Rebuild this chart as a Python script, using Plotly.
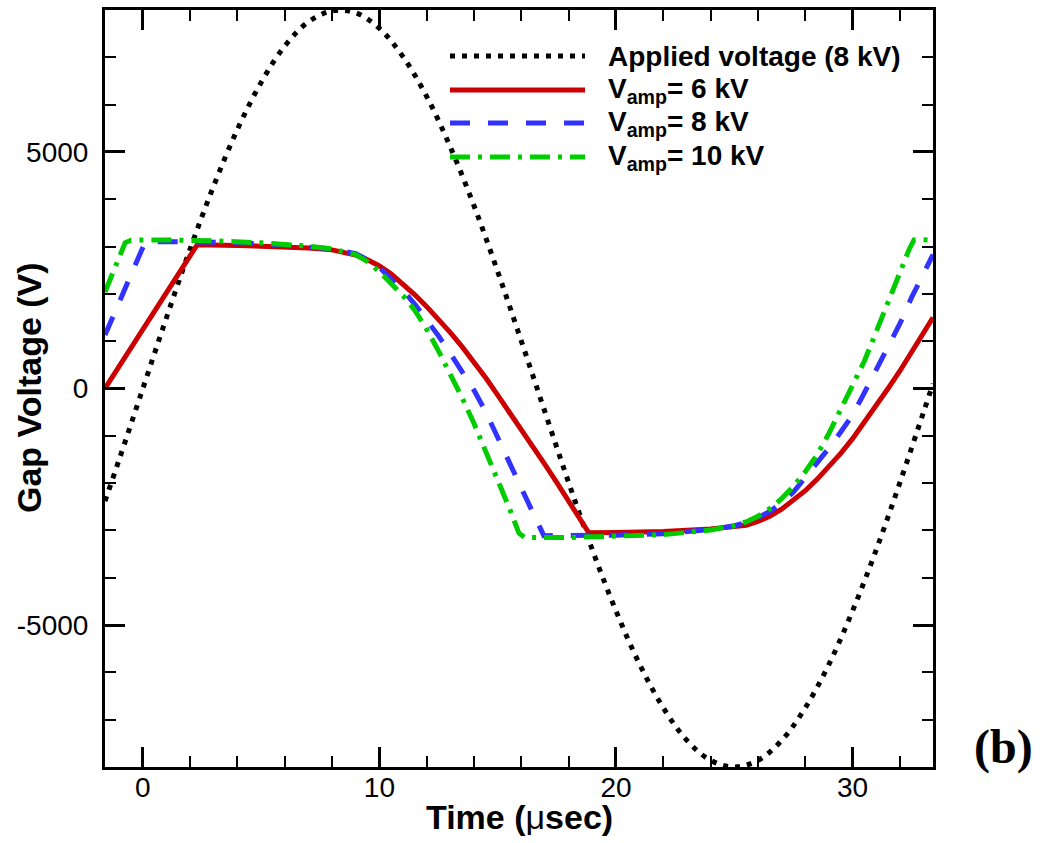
import plotly.graph_objects as go

# ---- data -------------------------------------------------------------
# applied sinusoidal voltage (8 kV amplitude)
t_applied = [-1.6, -1, 0, 1, 2, 3, 4, 5, 6, 7, 8, 9, 10, 11, 12, 13, 14, 15,
             16, 17, 18, 19, 20, 21, 22, 23, 24, 25, 26, 27, 28, 29, 30, 31,
             32, 33, 33.4]
v_applied = [-2380, -1500, 0, 1500, 2950, 4290, 5480, 6470, 7240, 7750, 7980,
             7940, 7610, 7010, 6170, 5100, 3860, 2470, 1000, -500, -1990,
             -3410, -4700, -5830, -6750, -7440, -7860, -8000, -7860, -7440,
             -6750, -5830, -4700, -3410, -1990, -500, 100]

# gap voltage, V_amp = 6 kV
t_6kv = [-1.6, 2.3, 4, 6, 7, 8, 8.5, 9, 9.5, 10, 10.5, 11, 11.5, 12, 12.5,
         13, 13.5, 14, 14.5, 15, 15.5, 16, 16.5, 17, 17.5, 18, 18.5, 18.85,
         20, 22, 24, 25, 25.5, 26, 26.5, 27, 27.5, 28, 28.5, 29, 29.5, 30,
         30.5, 31, 31.5, 32, 32.5, 33, 33.4]
v_6kv = [0, 3040, 3025, 2995, 2970, 2930, 2885, 2820, 2720, 2590, 2420, 2210,
         1980, 1730, 1460, 1180, 880, 560, 220, -140, -500, -865, -1235,
         -1610, -1990, -2375, -2765, -3050, -3045, -3025, -2970, -2930, -2890,
         -2810, -2700, -2550, -2370, -2160, -1920, -1650, -1370, -1060, -720,
         -360, 0, 370, 760, 1170, 1500]

# gap voltage, V_amp = 8 kV
t_8kv = [-1.6, 0.1, 2, 4, 6, 8, 9, 9.5, 10, 10.5, 11, 11.5, 12, 12.5, 13,
         13.5, 14, 14.5, 15, 15.5, 16, 16.5, 16.95, 18, 20, 22, 24, 25, 25.5,
         26, 26.5, 27, 27.5, 28, 28.5, 29, 29.5, 30, 30.5, 31, 31.5, 32, 32.5,
         33, 33.4]
v_8kv = [1130, 3100, 3100, 3080, 3030, 2950, 2850, 2720, 2560, 2330, 2070,
         1780, 1460, 1110, 740, 360, -40, -500, -1020, -1560, -2100, -2640,
         -3110, -3110, -3100, -3070, -2980, -2900, -2830, -2730, -2600, -2420,
         -2190, -1880, -1580, -1260, -920, -560, -90, 380, 870, 1370, 1930,
         2440, 2830]

# gap voltage, V_amp = 10 kV
t_10kv = [-1.6, -0.75, -0.5, 1, 3, 5, 7, 8, 9, 9.5, 10, 10.5, 11, 11.5, 12,
          12.5, 13, 13.5, 14, 14.5, 15, 15.5, 15.9, 16.15, 18, 20, 22, 24, 25,
          25.5, 26, 26.5, 27, 27.5, 28, 28.5, 29, 29.5, 30, 30.5, 31, 31.5,
          32, 32.4, 32.6, 32.8, 33.4]
v_10kv = [2040, 3080, 3135, 3140, 3120, 3080, 3010, 2950, 2830, 2680, 2470,
          2220, 1960, 1650, 1250, 790, 310, -200, -740, -1320, -1920, -2540,
          -3060, -3150, -3150, -3130, -3090, -2990, -2900, -2820, -2700, -2540,
          -2330, -2070, -1760, -1400, -950, -440, 60, 580, 1200, 1840, 2460,
          2950, 3140, 3150, 3130]

x_ticks = [0, 10, 20, 30]
y_ticks = [-5000, 0, 5000]
y_tick_text = ["-5000", "0", "5000"]

series = [
    ("Applied voltage (8 kV)", t_applied, v_applied, "black", 5, "5px,7px", "spline"),
    ("V<sub>amp</sub>= 6 kV", t_6kv, v_6kv, "#CC0000", 5, "solid", "linear"),
    ("V<sub>amp</sub>= 8 kV", t_8kv, v_8kv, "#3333FF", 5, "20px,18px", "linear"),
    ("V<sub>amp</sub>= 10 kV", t_10kv, v_10kv, "#00CC00", 5, "20px,8px,4px,8px", "linear"),
]

# ---- figure geometry (pixels) ----------------------------------------
W, H = 1043, 843
L, R, T, B = 105, 110, 10, 76
PW, PH = W - L - R, H - T - B


def px(x):
    return (x - L) / PW


def py(y):
    return (H - B - y) / PH


SANS = "Liberation Sans, Arial, Helvetica, sans-serif"

fig = go.Figure()
for name, t, v, color, width, dash, shape in series:
    fig.add_trace(go.Scatter(
        x=t, y=v, mode="lines", name=name, showlegend=False,
        line=dict(color=color, width=width, dash=dash, shape=shape),
    ))

# legend drawn as line samples plus labels
legend_rows = [56, 90, 123, 157]
shapes = []
annotations = []
for (name, _, _, color, width, dash, _), row in zip(series, legend_rows):
    shapes.append(dict(type="line", xref="paper", yref="paper",
                       x0=px(450), x1=px(585), y0=py(row), y1=py(row),
                       line=dict(color=color, width=width, dash=dash)))
    annotations.append(dict(xref="paper", yref="paper", x=px(606), y=py(row),
                            xanchor="left", yanchor="middle", showarrow=False,
                            text="<b>" + name + "</b>",
                            font=dict(family=SANS, size=28, color="black")))

annotations += [
    dict(xref="paper", yref="paper", x=px(519), y=py(817), xanchor="center",
         yanchor="middle", showarrow=False,
         text="<b>Time (</b>μ<b>sec)</b>",
         font=dict(family=SANS, size=34, color="black")),
    dict(xref="paper", yref="paper", x=px(29), y=py(388), xanchor="center",
         yanchor="middle", showarrow=False, textangle=-90,
         text="<b>Gap Voltage (V)</b>",
         font=dict(family=SANS, size=34, color="black")),
    dict(xref="paper", yref="paper", x=px(1003), y=py(747), xanchor="center",
         yanchor="middle", showarrow=False, text="<b>(b)</b>",
         font=dict(family="Liberation Serif, Times New Roman, serif", size=48,
                   color="black")),
]

axis_common = dict(
    showgrid=False, zeroline=False, showline=True, linecolor="black",
    linewidth=3, mirror="ticks", ticks="inside", ticklen=20, tickwidth=3,
    tickcolor="black", tickfont=dict(family=SANS, size=28, color="black"),
)

fig.update_layout(
    width=W, height=H,
    margin=dict(l=L, r=R, t=T, b=B, autoexpand=False),
    paper_bgcolor="white", plot_bgcolor="white",
    showlegend=False,
    xaxis=dict(range=[-1.6, 33.4], tickmode="array", tickvals=x_ticks,
               ticklabelstandoff=-7,
               minor=dict(tickmode="linear", tick0=0, dtick=2, ticks="inside",
                          ticklen=11, tickwidth=1.5, tickcolor="black"),
               **axis_common),
    yaxis=dict(range=[-8000, 8000], tickmode="array", tickvals=y_ticks,
               ticktext=y_tick_text, ticklabelstandoff=8,
               minor=dict(tickmode="linear", tick0=0, dtick=1000,
                          ticks="inside", ticklen=11, tickwidth=1.5,
                          tickcolor="black"),
               **axis_common),
    shapes=shapes,
    annotations=annotations,
)

fig.write_html("out.html")
